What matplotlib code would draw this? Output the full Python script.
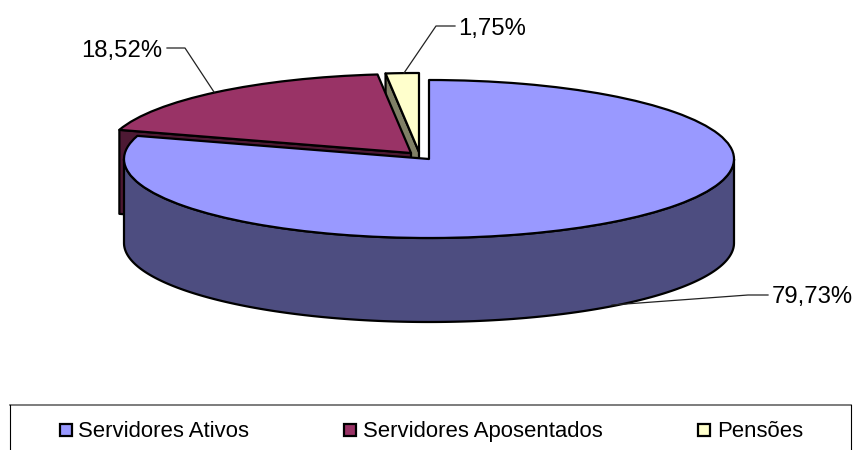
import numpy as np
import matplotlib
matplotlib.use("Agg")
import matplotlib.pyplot as plt
from matplotlib.patches import Wedge, Polygon, Rectangle

categories = ["Servidores Ativos", "Servidores Aposentados", "Pensões"]
values = [79.73, 18.52, 1.75]
colors = ["#9999FF", "#993366", "#FFFFCC"]
side_colors = ["#4D4D80", "#4D1933", "#808066"]

W, H = 854, 450
CX, CY, RX, RY, DEPTH = 429, 159, 305, 79, 84
offsets_px = [(0, 0), (-18, -6), (-10, -7)]
plt.rcParams["font.family"] = ["Liberation Sans", "DejaVu Sans"]

fig = plt.figure(figsize=(W / 100, H / 100), dpi=100, facecolor="white")
ax = fig.add_axes([0, 0, 1, 1])
ax.set_xlim(-CX / RX, (W - CX) / RX)
ax.set_ylim((CY - H) / RY, CY / RY)
ax.axis("off")
ov = fig.add_axes([0, 0, 1, 1], facecolor="none")
ov.set_xlim(0, W)
ov.set_ylim(H, 0)
ov.axis("off")

LW = 1.6
d = DEPTH / RY
ends = 90 - np.cumsum([0] + values) * 3.6  # math angles, clockwise from 12 o'clock
centers = [(ox / RX, -oy / RY) for ox, oy in offsets_px]

def unit(deg):
    return np.array([np.cos(np.radians(deg)), np.sin(np.radians(deg))])

def radial_wall(i, deg):
    c = np.array(centers[i])
    p = c + unit(deg)
    down = np.array([0, d])
    ax.add_patch(Polygon([c, p, p - down, c - down], closed=True, fc=side_colors[i],
                         ec="black", lw=LW, joinstyle="round"))

def top(i):
    ax.add_patch(Wedge(centers[i], 1, ends[i + 1], ends[i], fc=colors[i], ec="black",
                       lw=LW, joinstyle="round"))

# back pieces first
radial_wall(2, ends[2])
top(2)
radial_wall(1, ends[1])
top(1)

# blue wall, then blue top
t = np.radians(np.linspace(180, 360, 200))
xs, ys = np.cos(t), np.sin(t)
ax.add_patch(Polygon(np.r_[np.c_[xs, ys], np.c_[xs[::-1], ys[::-1] - d]], closed=True,
                     fc=side_colors[0], ec="black", lw=LW))
top(0)

# percentage labels with leader lines
labels = [f"{v:.2f}%".replace(".", ",") for v in values]
label_pos = [(772, 303.5, "left"), (162, 57.5, "right"), (458, 34.5, "left")]
leaders = [[(612, 305), (748, 295), (768, 295)],
           [(214, 92), (185, 48), (167, 48)],
           [(404, 73), (436, 26), (455, 26)]]
for lab, (x, y, ha), path in zip(labels, label_pos, leaders):
    ov.text(x, y, lab, ha=ha, va="baseline", fontsize=17.2, color="black")
    px, py = zip(*path)
    ov.plot(px, py, color="#222222", lw=0.9)

# legend frame
ov.plot([10, 851], [404.5, 404.5], color="#666666", lw=1.2, clip_on=False)
ov.plot([10, 10], [H, 405], color="black", lw=0.8)
ov.plot([851, 851], [H, 405], color="black", lw=0.8)
for name, col, sx, tx in zip(categories, colors, [60, 344, 698], [78, 363, 717]):
    ov.add_patch(Rectangle((sx, 424), 12, 12, fc=col, ec="black", lw=1.6))
    ov.text(tx, 437, name, ha="left", va="baseline", fontsize=15.9, color="black")

fig.savefig("out.png", dpi=100)
